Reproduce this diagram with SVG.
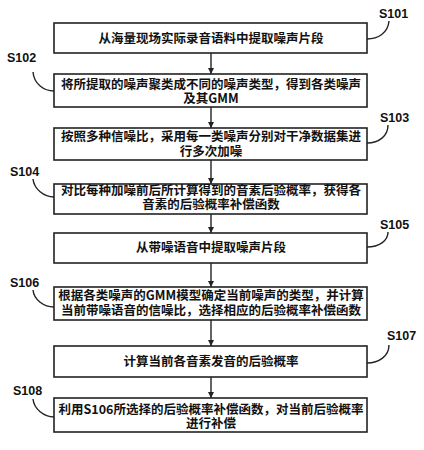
<svg xmlns="http://www.w3.org/2000/svg" width="424" height="450" viewBox="0 0 424 450">
<defs>
<style>
.box{fill:#fff;stroke:#222;stroke-width:1.6}
.t{font-family:"Noto Sans CJK SC","Noto Sans",sans-serif;font-weight:bold;font-size:12.5px;fill:#111;text-anchor:middle}
.lbl{font-family:"Liberation Sans",Arial,sans-serif;font-weight:bold;font-size:12.5px;fill:#111}
.c{fill:none;stroke:#222;stroke-width:1.4}
.ar{fill:none;stroke:#222;stroke-width:1.4}
</style>
<marker id="ah" viewBox="0 0 10 10" refX="10" refY="5" markerWidth="6" markerHeight="7" markerUnits="userSpaceOnUse" orient="auto">
<path d="M0,0 L10,5 L0,10 z" fill="#222"/>
</marker>
</defs>
<rect width="424" height="450" fill="#fff"/>
<g id="connectors">
<line class="ar" x1="211" y1="53" x2="211" y2="74" marker-end="url(#ah)"/>
<line class="ar" x1="211" y1="107" x2="211" y2="128" marker-end="url(#ah)"/>
<line class="ar" x1="211" y1="160" x2="211" y2="184" marker-end="url(#ah)"/>
<line class="ar" x1="211" y1="214" x2="211" y2="233" marker-end="url(#ah)"/>
<line class="ar" x1="211" y1="263" x2="211" y2="287" marker-end="url(#ah)"/>
<line class="ar" x1="211" y1="320" x2="211" y2="346" marker-end="url(#ah)"/>
<line class="ar" x1="211" y1="377" x2="211" y2="398" marker-end="url(#ah)"/>
</g>
<g id="S101">
<rect class="box" x="54" y="23" width="313" height="30"/>
<text class="t" x="211" y="43">从海量现场实际录音语料中提取噪声片段</text>
<path class="c" d="M367,39 C378,39 388,33 389,21"/>
<text class="lbl" x="379" y="18">S101</text>
</g>
<g id="S102">
<rect class="box" x="54" y="74" width="313" height="33"/>
<text class="t" x="211" y="89">将所提取的噪声聚类成不同的噪声类型，得到各类噪声</text>
<text class="t" x="211" y="103">及其GMM</text>
<path class="c" d="M33,72 C34,84 44,91 54,91"/>
<text class="lbl" x="7" y="62">S102</text>
</g>
<g id="S103">
<rect class="box" x="54" y="128" width="313" height="32"/>
<text class="t" x="211" y="141">按照多种信噪比，采用每一类噪声分别对干净数据集进</text>
<text class="t" x="211" y="156">行多次加噪</text>
<path class="c" d="M367,143 C379,143 388,136 388,125"/>
<text class="lbl" x="380" y="122">S103</text>
</g>
<g id="S104">
<rect class="box" x="54" y="184" width="313" height="30"/>
<text class="t" x="211" y="195">对比每种加噪前后所计算得到的音素后验概率，获得各</text>
<text class="t" x="211" y="209">音素的后验概率补偿函数</text>
<path class="c" d="M33,179 C34,189 44,197 54,197"/>
<text class="lbl" x="10" y="176">S104</text>
</g>
<g id="S105">
<rect class="box" x="54" y="233" width="313" height="30"/>
<text class="t" x="211" y="252">从带噪语音中提取噪声片段</text>
<path class="c" d="M367,247 C379,247 388,241 388,232"/>
<text class="lbl" x="380" y="229">S105</text>
</g>
<g id="S106">
<rect class="box" x="54" y="287" width="313" height="33"/>
<text class="t" x="211" y="300">根据各类噪声的GMM模型确定当前噪声的类型，并计算</text>
<text class="t" x="211" y="315">当前带噪语音的信噪比，选择相应的后验概率补偿函数</text>
<path class="c" d="M33,290 C34,300 44,307 54,307"/>
<text class="lbl" x="10" y="287">S106</text>
</g>
<g id="S107">
<rect class="box" x="54" y="346" width="313" height="31"/>
<text class="t" x="211" y="366">计算当前各音素发音的后验概率</text>
<path class="c" d="M367,363 C379,363 389,356 389,345"/>
<text class="lbl" x="387" y="340">S107</text>
</g>
<g id="S108">
<rect class="box" x="54" y="398" width="313" height="34"/>
<text class="t" x="211" y="414">利用S106所选择的后验概率补偿函数，对当前后验概率</text>
<text class="t" x="211" y="428">进行补偿</text>
<path class="c" d="M33,399 C34,409 44,417 54,417"/>
<text class="lbl" x="13" y="395">S108</text>
</g>
</svg>
